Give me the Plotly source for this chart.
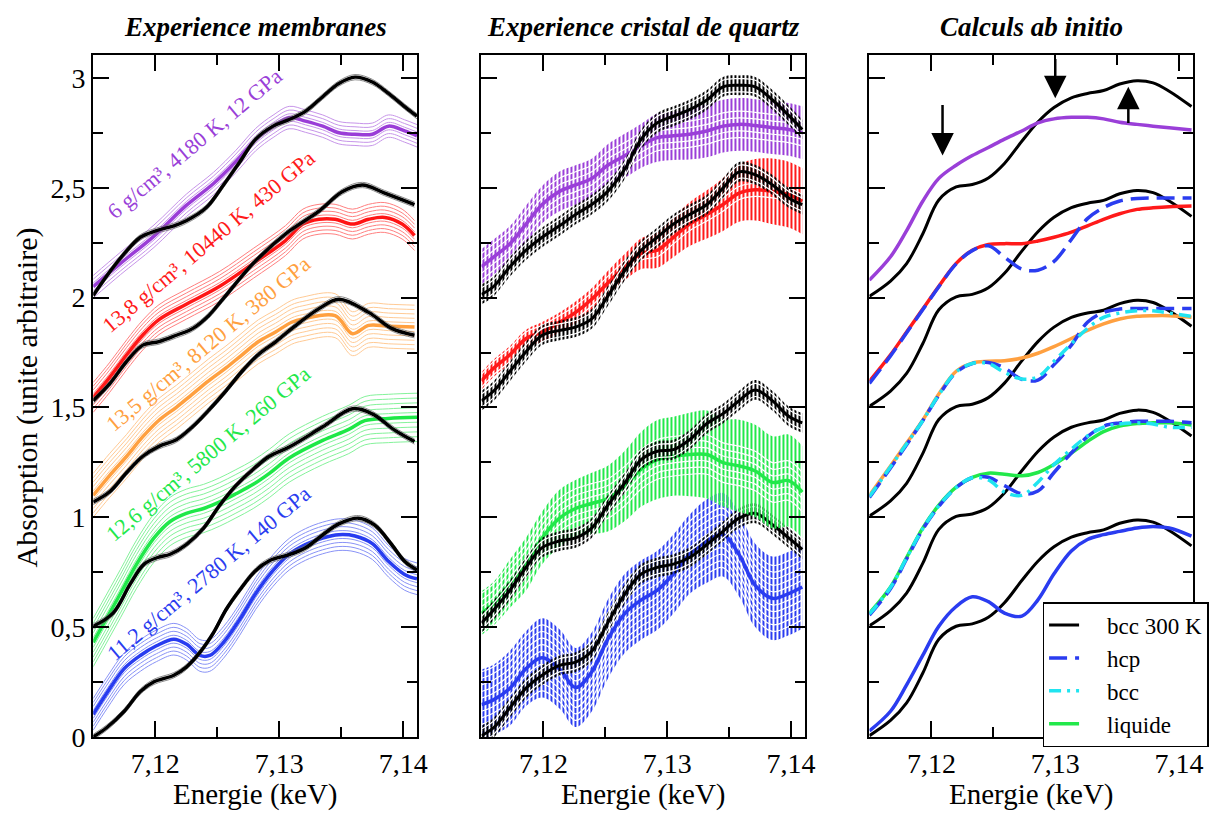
import plotly.graph_objects as go

FONT = "Liberation Serif, Times New Roman, Times, serif"

# ---------------- colours ----------------
C_PURPLE = "#9a3fd8"
C_RED = "#ff1a1a"
C_ORANGE = "#ffa040"
C_GREEN = "#22e84a"
C_BLUE = "#2a3cf0"
C_CYAN = "#20e4f0"
C_BLACK = "#000000"

# ---------------- axes ----------------
X_RANGE = [7.115, 7.1411]
Y_RANGE = [0, 3.106]
X_TICKS = [7.12, 7.13, 7.14]
X_TICKTEXT = ["7,12", "7,13", "7,14"]
X_MINOR = [7.125, 7.135]
Y_TICKS = [0, 0.5, 1, 1.5, 2, 2.5, 3]
Y_TICKTEXT = ["0", "0,5", "1", "1,5", "2", "2,5", "3"]
Y_MINOR = [0.25, 0.75, 1.25, 1.75, 2.25, 2.75]

# ================= Panel 1 : Experience membranes =================
P1_BLACK0_X = [7.115, 7.1161, 7.1175, 7.1188, 7.1199, 7.1215, 7.1225, 7.1236, 7.1247, 7.1257, 7.1268,
               7.1281, 7.1292, 7.1308, 7.1321, 7.1335, 7.1348, 7.1364, 7.1377, 7.1390, 7.1401, 7.1411]
P1_BLACK0_Y = [0.0, 0.043, 0.117, 0.207, 0.251, 0.281, 0.318, 0.385, 0.475, 0.579, 0.668,
               0.758, 0.802, 0.83, 0.86, 0.92, 0.97, 0.996, 0.964, 0.88, 0.80, 0.76]
P1_BLUE_X = [7.115, 7.1161, 7.1175, 7.1188, 7.1201, 7.1215, 7.1225, 7.1236, 7.1244, 7.1255, 7.1268,
             7.1281, 7.1295, 7.1308, 7.1321, 7.1335, 7.1348, 7.1361, 7.1375, 7.1388, 7.1401, 7.1411]
P1_BLUE_Y = [0.103, 0.2, 0.311, 0.371, 0.415, 0.445, 0.423, 0.371, 0.371, 0.43, 0.534,
             0.653, 0.758, 0.832, 0.876, 0.906, 0.921, 0.915, 0.88, 0.80, 0.74, 0.72]

P1_BLACK05_X = [7.115, 7.1166, 7.118, 7.1191, 7.1202, 7.1212, 7.1225, 7.1239, 7.1252, 7.1265, 7.1279,
                7.1292, 7.1308, 7.1335, 7.1359, 7.1375, 7.1393, 7.1409]
P1_BLACK05_Y = [0.504, 0.564, 0.698, 0.787, 0.817, 0.832, 0.876, 0.951, 1.055, 1.144, 1.219,
                1.278, 1.32, 1.412, 1.494, 1.471, 1.397, 1.345]
P1_GREEN_X = [7.115, 7.1172, 7.1185, 7.1199, 7.1212, 7.1225, 7.1239, 7.1252, 7.1265, 7.1279, 7.1292,
              7.1308, 7.1335, 7.1356, 7.1369, 7.1388, 7.1411]
P1_GREEN_Y = [0.43, 0.653, 0.787, 0.906, 0.981, 1.018, 1.04, 1.07, 1.107, 1.15, 1.2,
              1.27, 1.35, 1.40, 1.44, 1.45, 1.455]

P1_BLACK10_X = [7.115, 7.1163, 7.1177, 7.119, 7.1203, 7.1217, 7.123, 7.1243, 7.1257, 7.127, 7.1283,
                7.1297, 7.131, 7.1332, 7.1348, 7.1372, 7.1391, 7.1409]
P1_BLACK10_Y = [1.07, 1.115, 1.204, 1.278, 1.323, 1.353, 1.412, 1.487, 1.576, 1.665, 1.74,
                1.799, 1.859, 1.95, 1.993, 1.933, 1.859, 1.829]
P1_ORANGE_X = [7.115, 7.1163, 7.1177, 7.119, 7.1203, 7.1217, 7.123, 7.1243, 7.1257, 7.127, 7.1283,
               7.1297, 7.131, 7.1319, 7.1345, 7.1359, 7.1372, 7.1388, 7.1409]
P1_ORANGE_Y = [1.10, 1.189, 1.278, 1.367, 1.442, 1.501, 1.561, 1.621, 1.68, 1.74, 1.799,
               1.844, 1.888, 1.903, 1.918, 1.836, 1.874, 1.87, 1.866]

P1_BLACK15_X = [7.115, 7.1163, 7.1177, 7.119, 7.1203, 7.1217, 7.123, 7.1243, 7.1254, 7.1279, 7.1305,
                7.1332, 7.1351, 7.1367, 7.1385, 7.1409]
P1_BLACK15_Y = [1.531, 1.606, 1.71, 1.784, 1.8, 1.829, 1.859, 1.918, 1.99, 2.156, 2.29,
                2.394, 2.483, 2.513, 2.476, 2.424]
P1_RED_X = [7.115, 7.1163, 7.1177, 7.119, 7.1203, 7.1225, 7.1252, 7.1279, 7.1305, 7.1319, 7.1332,
            7.1345, 7.1359, 7.1372, 7.1385, 7.1399, 7.1409]
P1_RED_Y = [1.546, 1.635, 1.74, 1.83, 1.90, 1.97, 2.052, 2.156, 2.26, 2.335, 2.357,
            2.357, 2.335, 2.357, 2.365, 2.335, 2.283]

P1_BLACK20_X = [7.115, 7.1161, 7.1175, 7.1188, 7.1201, 7.1215, 7.1225, 7.1241, 7.1255, 7.1268, 7.1281,
                7.1295, 7.1308, 7.1321, 7.1335, 7.1348, 7.1361, 7.1375, 7.1388, 7.1401, 7.1411]
P1_BLACK20_Y = [2.01, 2.1, 2.2, 2.275, 2.305, 2.327, 2.35, 2.409, 2.513, 2.617, 2.722,
                2.781, 2.811, 2.848, 2.915, 2.975, 3.004, 2.982, 2.93, 2.87, 2.826]
P1_PURPLE_X = [7.115, 7.1172, 7.1199, 7.1225, 7.1247, 7.1265, 7.1281, 7.1295, 7.1308, 7.1321, 7.1335,
               7.1348, 7.1361, 7.1375, 7.1388, 7.1401, 7.1411]
P1_PURPLE_Y = [2.05, 2.156, 2.28, 2.42, 2.52, 2.62, 2.72, 2.78, 2.82, 2.804, 2.781,
               2.751, 2.744, 2.744, 2.781, 2.759, 2.737]

P1_LABELS = ["6 g/cm³, 4180 K, 12 GPa", "13,8 g/cm³, 10440 K, 430 GPa", "13,5 g/cm³, 8120 K, 380 GPa",
             "12,6 g/cm³, 5800 K, 260 GPa", "11,2 g/cm³, 2780 K, 140 GPa"]

# ================= Panel 2 : Experience cristal de quartz =================
P2_X = [7.115, 7.116, 7.1173, 7.1186, 7.1199, 7.1213, 7.1226, 7.1239, 7.1252, 7.1266, 7.1279,
        7.1292, 7.1305, 7.1318, 7.1332, 7.1345, 7.1358, 7.1371, 7.1385, 7.1398, 7.1409]
P2_PURPLE = [2.141, 2.186, 2.246, 2.335, 2.424, 2.484, 2.513, 2.543, 2.603, 2.647, 2.692,
             2.729, 2.737, 2.744, 2.759, 2.781, 2.789, 2.784, 2.774, 2.766, 2.751]
P2_PURPLE_ERR = [0.08, 0.08, 0.08, 0.085, 0.085, 0.09, 0.09, 0.09, 0.095, 0.1, 0.1,
                 0.11, 0.11, 0.115, 0.12, 0.12, 0.12, 0.12, 0.12, 0.12, 0.12]
P2_BLACK20 = [2.015, 2.052, 2.141, 2.216, 2.275, 2.327, 2.379, 2.424, 2.484, 2.588, 2.722,
              2.796, 2.826, 2.856, 2.9, 2.96, 2.967, 2.96, 2.9, 2.83, 2.766]
P2_RED = [1.621, 1.68, 1.74, 1.814, 1.844, 1.888, 1.933, 1.993, 2.067, 2.141, 2.201,
          2.216, 2.275, 2.335, 2.379, 2.424, 2.476, 2.491, 2.484, 2.469, 2.439]
P2_RED_ERR = [0.04, 0.04, 0.04, 0.04, 0.045, 0.045, 0.05, 0.05, 0.055, 0.06, 0.07,
              0.08, 0.09, 0.1, 0.11, 0.12, 0.13, 0.14, 0.15, 0.15, 0.15]
P2_BLACK15 = [1.531, 1.576, 1.665, 1.754, 1.829, 1.851, 1.866, 1.903, 2.007, 2.126, 2.216,
              2.275, 2.335, 2.379, 2.424, 2.499, 2.573, 2.56, 2.513, 2.454, 2.424]
P2_GREEN = [0.564, 0.608, 0.698, 0.787, 0.906, 0.996, 1.04, 1.063, 1.085, 1.144, 1.219,
            1.263, 1.278, 1.286, 1.286, 1.249, 1.234, 1.211, 1.159, 1.167, 1.115]
P2_GREEN_ERR = [0.1, 0.1, 0.11, 0.12, 0.12, 0.13, 0.13, 0.14, 0.15, 0.16, 0.17,
                0.18, 0.18, 0.19, 0.2, 0.2, 0.21, 0.21, 0.21, 0.21, 0.21]
P2_BLACK05 = [0.519, 0.579, 0.668, 0.772, 0.862, 0.892, 0.906, 0.951, 1.055, 1.159, 1.263,
              1.301, 1.308, 1.353, 1.427, 1.472, 1.531, 1.58, 1.53, 1.46, 1.43]
P2_BLUE = [0.147, 0.17, 0.222, 0.311, 0.36, 0.31, 0.225, 0.296, 0.445, 0.564, 0.624,
           0.668, 0.742, 0.832, 0.892, 0.921, 0.83, 0.69, 0.631, 0.653, 0.683]
P2_BLUE_ERR = [0.16, 0.16, 0.17, 0.17, 0.18, 0.18, 0.18, 0.18, 0.18, 0.18, 0.18,
               0.18, 0.18, 0.18, 0.19, 0.19, 0.19, 0.19, 0.19, 0.19, 0.19]
P2_BLACK0 = [0.006, 0.043, 0.133, 0.222, 0.281, 0.326, 0.341, 0.39, 0.52, 0.653, 0.742,
             0.772, 0.787, 0.817, 0.876, 0.936, 0.996, 1.018, 0.966, 0.906, 0.854]
P2_BLACK_ERR = 0.045

# ================= Panel 3 : Calculs ab initio =================
P3_X = [7.115, 7.1167, 7.118, 7.1193, 7.1206, 7.122, 7.1233, 7.1246, 7.1259, 7.1273,
        7.1286, 7.1299, 7.1313, 7.1326, 7.1339, 7.1352, 7.1366, 7.1379, 7.1392, 7.141]
P3_BCC300 = [0.006, 0.075, 0.155, 0.29, 0.445, 0.504, 0.515, 0.545, 0.611, 0.712,
             0.80, 0.866, 0.91, 0.93, 0.943, 0.973, 0.988, 0.978, 0.94, 0.87]
P3_OFFSETS = [0.0, 0.5, 1.0, 1.5, 2.0]
P3_PURPLE = [2.08, 2.186, 2.305, 2.439, 2.543, 2.603, 2.647, 2.684, 2.722, 2.759,
             2.796, 2.814, 2.821, 2.821, 2.814, 2.799, 2.789, 2.781, 2.774, 2.763]
P3_RED = [1.62, 1.74, 1.844, 1.948, 2.052, 2.156, 2.216, 2.242, 2.246, 2.246,
          2.258, 2.275, 2.298, 2.327, 2.357, 2.382, 2.402, 2.409, 2.414, 2.417]
P3_HCP_15 = [1.61, 1.735, 1.84, 1.945, 2.05, 2.154, 2.214, 2.236, 2.185, 2.13,
             2.125, 2.165, 2.265, 2.36, 2.41, 2.44, 2.452, 2.454, 2.454, 2.454]
P3_ORANGE = [1.10, 1.234, 1.338, 1.442, 1.561, 1.665, 1.702, 1.710, 1.713, 1.725,
             1.747, 1.777, 1.814, 1.851, 1.881, 1.903, 1.915, 1.918, 1.918, 1.911]
P3_HCP_10 = [1.09, 1.225, 1.33, 1.44, 1.555, 1.66, 1.70, 1.705, 1.68, 1.628,
             1.625, 1.695, 1.784, 1.888, 1.933, 1.948, 1.951, 1.951, 1.951, 1.951]
P3_BCC_10 = [1.095, 1.23, 1.335, 1.44, 1.558, 1.662, 1.70, 1.70, 1.66, 1.63,
             1.64, 1.71, 1.79, 1.86, 1.91, 1.93, 1.94, 1.94, 1.93, 1.915]
P3_GREEN = [0.564, 0.683, 0.817, 0.951, 1.055, 1.137, 1.182, 1.201, 1.196, 1.189,
            1.204, 1.241, 1.293, 1.345, 1.39, 1.415, 1.427, 1.43, 1.43, 1.42]
P3_HCP_05 = [0.555, 0.675, 0.81, 0.945, 1.05, 1.135, 1.18, 1.182, 1.144, 1.107,
             1.12, 1.204, 1.293, 1.367, 1.415, 1.43, 1.437, 1.437, 1.437, 1.43]
P3_BCC_05 = [0.56, 0.68, 0.815, 0.948, 1.052, 1.135, 1.18, 1.17, 1.115, 1.10,
             1.16, 1.24, 1.31, 1.37, 1.41, 1.425, 1.43, 1.425, 1.41, 1.41]
P3_BLUE = [0.028, 0.117, 0.237, 0.371, 0.504, 0.594, 0.638, 0.616, 0.564, 0.55,
           0.624, 0.743, 0.847, 0.899, 0.921, 0.936, 0.951, 0.958, 0.951, 0.914]
# arrows: (energy, tail value, head value)
P3_ARROWS = [(7.1209, 2.884, 2.647), (7.1300, 3.094, 2.908), (7.1359, 2.789, 2.96)]
LEGEND_NAMES = ["bcc 300 K", "hcp", "bcc", "liquide"]

fig = go.Figure()


def add_line(x, y, xa, ya, color, width, dash=None, opacity=1.0, name=None, showlegend=False, rank=1000):
    fig.add_trace(go.Scatter(
        x=x, y=y, xaxis=xa, yaxis=ya, mode="lines",
        line=dict(color=color, width=width, shape="spline", smoothing=1.0, dash=dash),
        opacity=opacity, name=name, showlegend=showlegend, legendrank=rank, hoverinfo="skip"))


# ---------- panel 1 ----------
def membrane_band(x, y, color, n, step):
    for k in range(-n, n + 1):
        if k == 0:
            continue
        add_line(x, [v + k * step for v in y], "x", "y", color, 1.0, opacity=0.55)
    add_line(x, y, "x", "y", color, 3.5)


def membrane_ref(x, y):
    for d in (-0.012, 0.012):
        add_line(x, [v + d for v in y], "x", "y", "#707070", 1.0, opacity=0.8)
    add_line(x, y, "x", "y", C_BLACK, 3.4)


membrane_band(P1_BLUE_X, P1_BLUE_Y, C_BLUE, 4, 0.018)
membrane_ref(P1_BLACK0_X, P1_BLACK0_Y)
membrane_band(P1_GREEN_X, P1_GREEN_Y, C_GREEN, 5, 0.022)
membrane_ref(P1_BLACK05_X, P1_BLACK05_Y)
membrane_band(P1_ORANGE_X, P1_ORANGE_Y, C_ORANGE, 5, 0.02)
membrane_ref(P1_BLACK10_X, P1_BLACK10_Y)
membrane_band(P1_RED_X, P1_RED_Y, C_RED, 4, 0.017)
membrane_ref(P1_BLACK15_X, P1_BLACK15_Y)
membrane_band(P1_PURPLE_X, P1_PURPLE_Y, C_PURPLE, 3, 0.017)
membrane_ref(P1_BLACK20_X, P1_BLACK20_Y)


# ---------- panel 2 ----------
def quartz_band(x, y, err, color, stripe, center_w=3.5):
    if not isinstance(err, list):
        err = [err] * len(y)
    lo = [v - e for v, e in zip(y, err)]
    hi = [v + e for v, e in zip(y, err)]
    fig.add_trace(go.Scatter(x=x, y=lo, xaxis="x2", yaxis="y2", mode="lines",
                             line=dict(width=0, shape="spline", color=color),
                             showlegend=False, hoverinfo="skip"))
    fig.add_trace(go.Scatter(x=x, y=hi, xaxis="x2", yaxis="y2", mode="lines",
                             line=dict(width=0, shape="spline", color=color),
                             fill="tonexty", fillcolor=color, opacity=0.85,
                             fillpattern=dict(shape="|", fgcolor=color, bgcolor="rgba(0,0,0,0)",
                                              size=4, solidity=0.5, fillmode="replace"),
                             showlegend=False, hoverinfo="skip"))
    m = int(min(err) / stripe)
    for k in range(-m, m + 1):
        if k == 0:
            continue
        add_line(x, [v + k * stripe for v in y], "x2", "y2", "white", 1.2)
    add_line(x, y, "x2", "y2", color, center_w)


quartz_band(P2_X, P2_BLUE, P2_BLUE_ERR, C_BLUE, 0.03)
quartz_band(P2_X, P2_BLACK0, P2_BLACK_ERR, C_BLACK, 0.03, 3)
quartz_band(P2_X, P2_GREEN, P2_GREEN_ERR, C_GREEN, 0.03)
quartz_band(P2_X, P2_BLACK05, P2_BLACK_ERR, C_BLACK, 0.03, 3)
quartz_band(P2_X, P2_RED, P2_RED_ERR, C_RED, 0.03)
quartz_band(P2_X, P2_BLACK15, P2_BLACK_ERR, C_BLACK, 0.03, 3)
quartz_band(P2_X, P2_PURPLE, P2_PURPLE_ERR, C_PURPLE, 0.03)
quartz_band(P2_X, P2_BLACK20, P2_BLACK_ERR, C_BLACK, 0.03, 3)

# ---------- panel 3 ----------
PAD = "\u00a0\u00a0\u00a0\u00a0"
for i, off in enumerate(P3_OFFSETS):
    add_line(P3_X, [v + off for v in P3_BCC300], "x3", "y3", C_BLACK, 3,
             name=PAD + LEGEND_NAMES[0], showlegend=(i == 0), rank=1)
add_line(P3_X, P3_PURPLE, "x3", "y3", C_PURPLE, 3.5)
add_line(P3_X, P3_RED, "x3", "y3", C_RED, 3.5)
add_line(P3_X, P3_ORANGE, "x3", "y3", C_ORANGE, 3.5)
add_line(P3_X, P3_GREEN, "x3", "y3", C_GREEN, 3.5, name=PAD + LEGEND_NAMES[3],
         showlegend=True, rank=4)
add_line(P3_X, P3_BLUE, "x3", "y3", C_BLUE, 3.5)
HCP_DASH = "18px,8px"
BCC_DASH = "12px,6px,3px,6px"
add_line(P3_X, P3_HCP_15, "x3", "y3", C_BLUE, 3.5, dash=HCP_DASH,
         name=PAD + LEGEND_NAMES[1], showlegend=True, rank=2)
add_line(P3_X, P3_HCP_10, "x3", "y3", C_BLUE, 3.5, dash=HCP_DASH)
add_line(P3_X, P3_HCP_05, "x3", "y3", C_BLUE, 3.5, dash=HCP_DASH)
add_line(P3_X, P3_BCC_10, "x3", "y3", C_CYAN, 3.5, dash=BCC_DASH,
         name=PAD + LEGEND_NAMES[2], showlegend=True, rank=3)
add_line(P3_X, P3_BCC_05, "x3", "y3", C_CYAN, 3.5, dash=BCC_DASH)

# ---------- axes ----------
tickfont = dict(family=FONT, size=28, color="black")


def xaxis(domain, anchor):
    return dict(domain=domain, anchor=anchor, range=X_RANGE, tickmode="array", tickvals=X_TICKS,
                ticktext=X_TICKTEXT, ticks="inside", ticklen=16, tickwidth=2, tickcolor="black",
                minor=dict(tickmode="array", tickvals=X_MINOR, ticks="inside", ticklen=10,
                           tickwidth=2, tickcolor="black"),
                showline=True, linewidth=2, linecolor="black", mirror="ticks",
                showgrid=False, zeroline=False, tickfont=tickfont, fixedrange=True)


def yaxis(anchor, labels):
    return dict(domain=[0.0911, 0.9417], anchor=anchor, range=Y_RANGE, tickmode="array",
                tickvals=Y_TICKS, ticktext=Y_TICKTEXT, ticks="inside", ticklen=16, tickwidth=2,
                tickcolor="black", showticklabels=labels,
                minor=dict(tickmode="array", tickvals=Y_MINOR, ticks="inside", ticklen=10,
                           tickwidth=2, tickcolor="black"),
                showline=True, linewidth=2, linecolor="black", mirror="ticks",
                showgrid=False, zeroline=False, tickfont=tickfont, fixedrange=True)


annotations = []
# panel titles
for txt, xc in [("Experience membranes", 0.2035), ("Experience cristal de quartz", 0.5231),
                ("Calculs ab initio", 0.8427)]:
    annotations.append(dict(text="<b><i>" + txt + "</i></b>", x=xc, y=0.976, xref="paper",
                            yref="paper", xanchor="center", yanchor="middle", showarrow=False,
                            font=dict(family=FONT, size=27, color="black")))
    annotations.append(dict(text="Energie (keV)", x=xc, y=0.019, xref="paper", yref="paper",
                            xanchor="center", yanchor="middle", showarrow=False,
                            font=dict(family=FONT, size=29, color="black")))
annotations.append(dict(text="Absorption (unite arbitraire)", x=0.016, y=0.515, xref="paper",
                        yref="paper", xanchor="center", yanchor="middle", textangle=-90,
                        showarrow=False, font=dict(family=FONT, size=30, color="black")))

# rotated labels on panel 1
label_pos = [(7.1232, 2.70), (7.1243, 2.255), (7.1243, 1.79), (7.1243, 1.29), (7.1243, 0.745)]
label_col = [C_PURPLE, C_RED, C_ORANGE, C_GREEN, C_BLUE]
for txt, (lx, ly), col in zip(P1_LABELS, label_pos, label_col):
    annotations.append(dict(text=txt, x=lx, y=ly, xref="x", yref="y", textangle=-40,
                            showarrow=False, xanchor="center", yanchor="middle",
                            font=dict(family=FONT, size=22, color=col)))

# arrows on panel 3
for ex, tail, head in P3_ARROWS:
    annotations.append(dict(text="", x=ex, y=head, ax=ex, ay=tail, xref="x3", yref="y3",
                            axref="x3", ayref="y3", showarrow=True, arrowhead=2,
                            arrowsize=1.8, arrowwidth=2.5, arrowcolor="black"))

fig.update_layout(
    width=1225, height=818, autosize=False,
    margin=dict(l=0, r=0, t=0, b=0),
    paper_bgcolor="white", plot_bgcolor="white",
    separators=", ",
    xaxis=xaxis([0.0702, 0.3369], "y"),
    xaxis2=xaxis([0.39, 0.6563], "y2"),
    xaxis3=xaxis([0.7096, 0.9759], "y3"),
    yaxis=yaxis("x", True),
    yaxis2=yaxis("x2", False),
    yaxis3=yaxis("x3", False),
    annotations=annotations,
    legend=dict(x=0.8522, y=0.2592, xanchor="left", yanchor="top", bgcolor="white",
                bordercolor="black", borderwidth=1.5, font=dict(family=FONT, size=23, color="black"),
                tracegroupgap=0, itemwidth=30, traceorder="normal"),
    showlegend=True,
)

fig.write_html("out.html")
